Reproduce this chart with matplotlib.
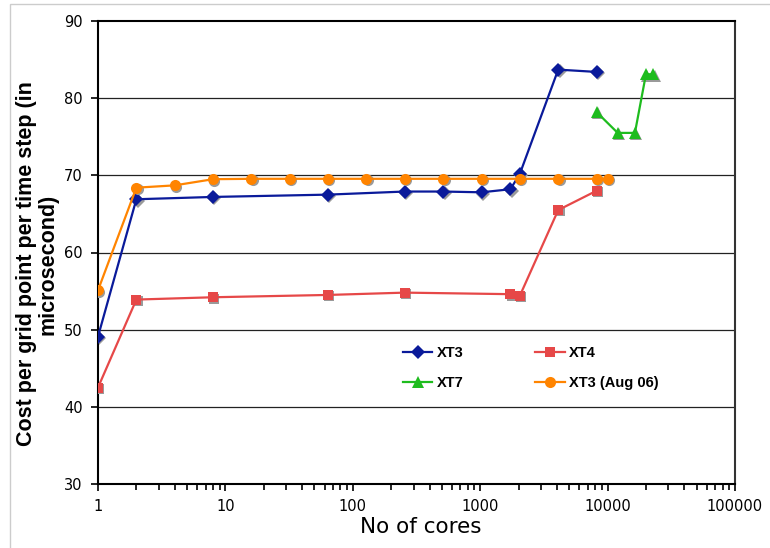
import numpy as np
import matplotlib
matplotlib.use('Agg')
import matplotlib.pyplot as plt
from matplotlib.transforms import ScaledTranslation
from matplotlib.patches import Rectangle
from matplotlib.ticker import LogLocator, FixedLocator, NullFormatter

# data
xt3_cores = [1, 2, 8, 64, 256, 512, 1024, 1728, 2048, 4096, 8192]
xt3_cost = [49.1, 66.9, 67.2, 67.5, 67.9, 67.9, 67.8, 68.2, 70.2, 83.7, 83.4]

xt4_cores = [1, 2, 8, 64, 256, 1728, 2048, 4096, 8192]
xt4_cost = [42.5, 53.9, 54.2, 54.5, 54.8, 54.6, 54.4, 65.5, 68.0]

xt7_cores = [8192, 12000, 16384, 20000, 22800]
xt7_cost = [78.2, 75.5, 75.5, 83.1, 83.1]

aug_cores = [1, 2, 4, 8, 16, 32, 64, 128, 256, 512, 1024, 2048, 4096, 8192, 10000]
aug_cost = [55.1, 68.4, 68.7, 69.5, 69.55, 69.55, 69.55, 69.55, 69.55, 69.55,
            69.55, 69.55, 69.55, 69.55, 69.55]

series = [
    ('XT3', xt3_cores, xt3_cost, '#0a1a9a', 'D', 7),
    ('XT4', xt4_cores, xt4_cost, '#e64848', 's', 7.5),
    ('XT7', xt7_cores, xt7_cost, '#1ebc1e', '^', 8.5),
    ('XT3 (Aug 06)', aug_cores, aug_cost, '#ff8400', 'o', 8),
]

W, H = 770, 548
fig = plt.figure(figsize=(W / 100, H / 100), dpi=100)
ax = fig.add_axes([98 / W, 1 - 484 / H, (735 - 98) / W, (484 - 21) / H])

# thin grey outer frame like the original slide
fig.patches.append(Rectangle((10 / W, -0.1), 1.2, 1 - 4 / H + 0.1,
                             transform=fig.transFigure, fill=False,
                             edgecolor='#cccccc', lw=1))

shadow = ax.transData + ScaledTranslation(1.0 / 72, -1.0 / 72, fig.dpi_scale_trans)
handles = {}
for i, (name, xs, ys, col, mk, ms) in enumerate(series):
    ax.plot(xs, ys, ls='none', marker=mk, ms=ms, color='#9a9a9a',
            markeredgewidth=0, transform=shadow, zorder=2 + i * 2)
    h, = ax.plot(xs, ys, color=col, lw=1.6, marker=mk, ms=ms,
                 markeredgewidth=0, zorder=3 + i * 2, label=name)
    handles[name] = h

ax.set_xscale('log')
ax.set_xlim(1, 100000)
ax.set_ylim(30, 90)
ax.set_yticks(range(30, 91, 10))
ax.xaxis.set_major_locator(FixedLocator([1, 10, 100, 1000, 10000, 100000]))
ax.set_xticklabels(['1', '10', '100', '1000', '10000', '100000'])
ax.xaxis.set_minor_locator(LogLocator(base=10, subs=np.arange(2, 10), numticks=20))
ax.xaxis.set_minor_formatter(NullFormatter())

for yv in range(40, 90, 10):
    ax.axhline(yv, color='#222222', lw=0.9, zorder=1)

for s in ax.spines.values():
    s.set_linewidth(1.5)
    s.set_color('black')
ax.spines['right'].set_color('#333333')

ax.tick_params(axis='both', which='major', direction='out', length=5, width=1.2,
               labelsize=10.5, pad=6)
ax.tick_params(axis='x', which='minor', direction='out', length=4, width=1.2)

ax.set_xlabel('No of cores', fontsize=15.5, labelpad=2)
ax.xaxis.label.set_x((421 - 98) / 637)
ax.set_ylabel('Cost per grid point per time step (in\nmicrosecond)',
              family='Liberation Sans', fontweight='bold', fontsize=15.5,
              labelpad=4, linespacing=1.05)
ax.yaxis.label.set_y((484 - 264) / 463)

# legend is filled column by column, so order gives rows XT3 XT4 / XT7 Aug06
order = ['XT3', 'XT7', 'XT4', 'XT3 (Aug 06)']
fig.legend(handles=[handles[k] for k in order], ncol=2, frameon=False,
           loc='upper left', bbox_to_anchor=(403 / W, 1 - 346 / H),
           bbox_transform=fig.transFigure, borderpad=0, borderaxespad=0,
           handlelength=2.0, handletextpad=0.3, columnspacing=4.95,
           labelspacing=1.12,
           prop={'family': 'Liberation Sans', 'weight': 'bold', 'size': 10.5})

fig.savefig('out.png', dpi=100)
